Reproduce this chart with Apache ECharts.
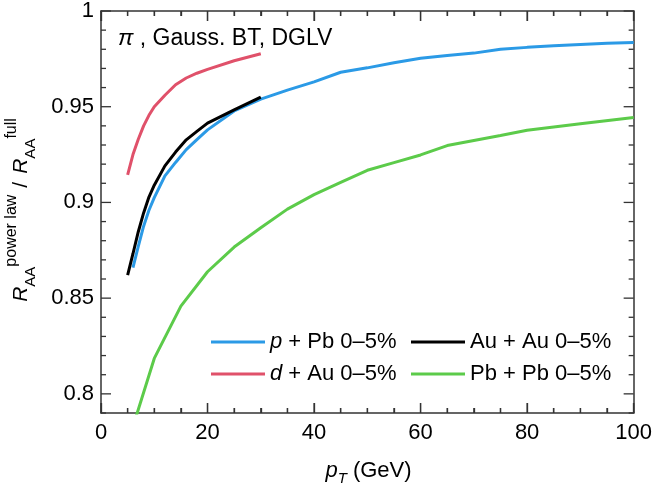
<!DOCTYPE html>
<html>
<head>
<meta charset="utf-8">
<script src="https://cdn.jsdelivr.net/npm/echarts@6/dist/echarts.min.js"></script>
<style>
  html, body { margin: 0; padding: 0; background: #fff; }
  #chart { width: 655px; height: 491px; }
</style>
</head>
<body>
<div id="chart"></div>
<script>
// Ratio of power-law to full R_AA versus pT for four collision systems
const pPbPt    = [6, 7, 8, 9, 10, 12, 14, 16, 18, 20, 25, 30, 35, 40, 45, 50, 55, 60, 65, 70, 75, 80, 85, 90, 95, 100];
const pPbRatio = [0.866, 0.877, 0.8876, 0.8959, 0.9025, 0.9139, 0.9209, 0.9276, 0.9328, 0.9379, 0.9478, 0.954,
                  0.9587, 0.963, 0.968, 0.9703, 0.973, 0.9753, 0.9768, 0.978, 0.980, 0.981, 0.9818, 0.9825, 0.9831, 0.9836];

const auAuPt    = [5, 6, 7, 8, 9, 10, 12, 14, 16, 18, 20, 25, 30];
const auAuRatio = [0.862, 0.8732, 0.8847, 0.8945, 0.9028, 0.909, 0.9191, 0.9263, 0.9327, 0.9371, 0.9414, 0.9483, 0.955];

const dAuPt    = [5, 6, 7, 8, 9, 10, 12, 14, 16, 18, 20, 25, 30];
const dAuRatio = [0.9144, 0.925, 0.933, 0.940, 0.9455, 0.950, 0.956, 0.9615, 0.965, 0.9675, 0.9695, 0.974, 0.9777];

const pbPbPt    = [5, 10, 15, 20, 25, 30, 35, 40, 45, 50, 55, 60, 65, 70, 75, 80, 90, 100];
const pbPbRatio = [0.774, 0.8185, 0.8458, 0.8638, 0.8767, 0.8868, 0.8965, 0.9041, 0.9105, 0.9168, 0.9208,
                   0.9248, 0.9297, 0.9324, 0.935, 0.9377, 0.9411, 0.9444];

const seriesNames = ['p + Pb 0–5%', 'Au + Au 0–5%', 'd + Au 0–5%', 'Pb + Pb 0–5%'];
const legendLabels = {
  'p + Pb 0–5%': '{i|p} + Pb 0–5%',
  'Au + Au 0–5%': 'Au + Au 0–5%',
  'd + Au 0–5%': '{i|d} + Au 0–5%',
  'Pb + Pb 0–5%': 'Pb + Pb 0–5%'
};

// axis ranges and tick positions
const X_MIN = 0, X_MAX = 100, X_STEP = 20, Y_MIN = 0.79, Y_MAX = 1;
const xMajorTicks = [0, 20, 40, 60, 80, 100];
const xMinorTicks = [5, 10, 15, 25, 30, 35, 45, 50, 55, 65, 70, 75, 85, 90, 95];
const yMajorTicks = [0.8, 0.85, 0.9, 0.95, 1];
const yMinorTicks = [0.79, 0.81, 0.82, 0.83, 0.84, 0.86, 0.87, 0.88, 0.89, 0.91, 0.92, 0.93, 0.94, 0.96, 0.97, 0.98, 0.99];
const annotation = '{i|π} , Gauss. BT, DGLV';

const FONT = '"Liberation Sans", Arial, Helvetica, sans-serif';
const AXIS_COLOR = '#333';
const MAJOR_LEN = 10, MINOR_LEN = 5, TICK_W = 1.3;

function zip(xs, ys) { return xs.map((x, i) => [x, ys[i]]); }

const chart = echarts.init(document.getElementById('chart'), null, { renderer: 'canvas' });

const axisLineStyle = { color: AXIS_COLOR, width: 1.5 };

function xAxisDef(pos, showLabels) {
  return {
    type: 'value', position: pos, min: X_MIN, max: X_MAX, interval: X_STEP,
    axisLine: { show: true, lineStyle: { color: AXIS_COLOR, width: 1.5 } },
    axisTick: { show: true, inside: true, length: MAJOR_LEN, lineStyle: { color: AXIS_COLOR, width: TICK_W } },
    minorTick: { show: true, splitNumber: 4, length: MINOR_LEN, lineStyle: { color: AXIS_COLOR, width: TICK_W } },
    axisLabel: { show: showLabels, fontSize: 22, fontFamily: FONT, color: '#000', margin: 9 },
    splitLine: { show: false }
  };
}
function yAxisDef(pos, showLabels) {
  return {
    type: 'value', position: pos, min: Y_MIN, max: Y_MAX,
    axisLine: { show: true, onZero: false, lineStyle: axisLineStyle },
    axisTick: { show: false },
    axisLabel: {
      show: showLabels, customValues: yMajorTicks, fontSize: 22, fontFamily: FONT, color: '#000', margin: 7,
      formatter: v => String(+Number(v).toFixed(2))
    },
    splitLine: { show: false }
  };
}

// Inward frame ticks, placed through the axis scales.
// Each item is a ratio-axis tick [value, length]; the first item also carries the pT-axis ticks.
const yTickData = yMajorTicks.map(v => [v, MAJOR_LEN]).concat(yMinorTicks.map(v => [v, MINOR_LEN]));
const xTickList = xMajorTicks.map(v => [v, MAJOR_LEN]).concat(xMinorTicks.map(v => [v, MINOR_LEN]));

function tickRect(x, y, w, h) {
  return { type: 'rect', shape: { x: x, y: y, width: w, height: h }, style: { fill: AXIS_COLOR } };
}
function tickItem(params, api) {
  const v = api.value(0), len = api.value(1);
  const l = api.coord([X_MIN, v]), r = api.coord([X_MAX, v]);
  const children = [
    tickRect(l[0], l[1] - TICK_W / 2, len, TICK_W),
    tickRect(r[0] - len, r[1] - TICK_W / 2, len, TICK_W)
  ];
  if (params.dataIndex === 0) {
    xTickList.forEach(([xv, xl]) => {
      const b = api.coord([xv, Y_MIN]), t = api.coord([xv, Y_MAX]);
      children.push(tickRect(b[0] - TICK_W / 2, b[1] - xl, TICK_W, xl));
      children.push(tickRect(t[0] - TICK_W / 2, t[1], TICK_W, xl));
    });
  }
  return { type: 'group', children: children };
}

const colors = {
  'p + Pb 0–5%': '#2b9ae6',
  'Au + Au 0–5%': '#000000',
  'd + Au 0–5%': '#e0516a',
  'Pb + Pb 0–5%': '#5ccb4a'
};
const seriesData = {
  'p + Pb 0–5%': zip(pPbPt, pPbRatio),
  'Au + Au 0–5%': zip(auAuPt, auAuRatio),
  'd + Au 0–5%': zip(dAuPt, dAuRatio),
  'Pb + Pb 0–5%': zip(pbPbPt, pbPbRatio)
};
// draw order: green, red, blue, then black on top
const drawOrder = ['Pb + Pb 0–5%', 'd + Au 0–5%', 'p + Pb 0–5%', 'Au + Au 0–5%'];

const legendPos = {
  'p + Pb 0–5%': { left: 211, top: 330 },
  'Au + Au 0–5%': { left: 411, top: 330 },
  'd + Au 0–5%': { left: 211, top: 362 },
  'Pb + Pb 0–5%': { left: 411, top: 362 }
};

const lineSeries = drawOrder.map(name => ({
  name: name,
  type: 'line',
  data: seriesData[name],
  showSymbol: false, symbol: 'none',
  clip: true,
  lineStyle: { color: colors[name], width: 3 },
  itemStyle: { color: colors[name] },
  emphasis: { disabled: true },
  z: 3
}));

const option = {
  backgroundColor: '#ffffff',
  animation: false,
  grid: { left: 101, right: 19, top: 11, bottom: 78, containLabel: false },
  xAxis: [xAxisDef('bottom', true), xAxisDef('top', false)],
  yAxis: [yAxisDef('left', true), yAxisDef('right', false)],
  legend: seriesNames.map(name => ({
    data: [name],
    left: legendPos[name].left, top: legendPos[name].top,
    padding: 0, selectedMode: false,
    icon: 'rect', itemWidth: 54, itemHeight: 3,
    formatter: n => legendLabels[n],
    textStyle: {
      fontSize: 22, fontFamily: FONT, color: '#000', lineHeight: 24,
      rich: { i: { fontSize: 22, fontFamily: FONT, fontStyle: 'italic', color: '#000', lineHeight: 24 } }
    }
  })),
  graphic: [
    {
      type: 'text', x: 118, y: 38.7, silent: true,
      style: {
        text: annotation, fill: '#000', fontSize: 23, fontFamily: FONT,
        align: 'left', verticalAlign: 'middle',
        rich: { i: { fontSize: 23, fontFamily: FONT, fontStyle: 'italic', fill: '#000' } }
      }
    },
    {
      type: 'text', x: 368.5, y: 471, silent: true,
      style: {
        text: '{i|p}{sub|T}{n| (GeV)}', fill: '#000', fontFamily: FONT,
        align: 'center', verticalAlign: 'middle',
        rich: {
          i: { fontSize: 22, fontFamily: FONT, fontStyle: 'italic', fill: '#000', lineHeight: 30, verticalAlign: 'middle' },
          sub: { fontSize: 15, fontFamily: FONT, fontStyle: 'italic', fill: '#000', lineHeight: 18, verticalAlign: 'bottom' },
          n: { fontSize: 22, fontFamily: FONT, fill: '#000', lineHeight: 30, verticalAlign: 'middle' }
        }
      }
    },
    {
      type: 'text', x: 21, y: 210, rotation: Math.PI / 2, silent: true,
      style: {
        text: '{R|R}{sub|AA}{sup|power law}{n|/}{R|R}{sub|AA}{sup|full}',
        fill: '#000', fontFamily: FONT,
        align: 'center', verticalAlign: 'middle',
        rich: {
          R: { fontSize: 21, fontFamily: FONT, fontStyle: 'italic', fill: '#000', lineHeight: 34, verticalAlign: 'middle' },
          n: { fontSize: 21, fontFamily: FONT, fill: '#000', lineHeight: 34, verticalAlign: 'middle', padding: [0, 8, 0, 7] },
          sub: { fontSize: 15, fontFamily: FONT, fill: '#000', lineHeight: 20, verticalAlign: 'bottom' },
          sup: { fontSize: 16, fontFamily: FONT, fill: '#000', lineHeight: 22, verticalAlign: 'top' }
        }
      }
    }
  ],
  series: lineSeries.concat([
    { type: 'custom', name: 'frameTicks', coordinateSystem: 'cartesian2d', data: yTickData,
      encode: { x: 0, y: 1 }, renderItem: tickItem, silent: true, clip: false, z: 4 }
  ])
};

chart.setOption(option);
</script>
</body>
</html>
